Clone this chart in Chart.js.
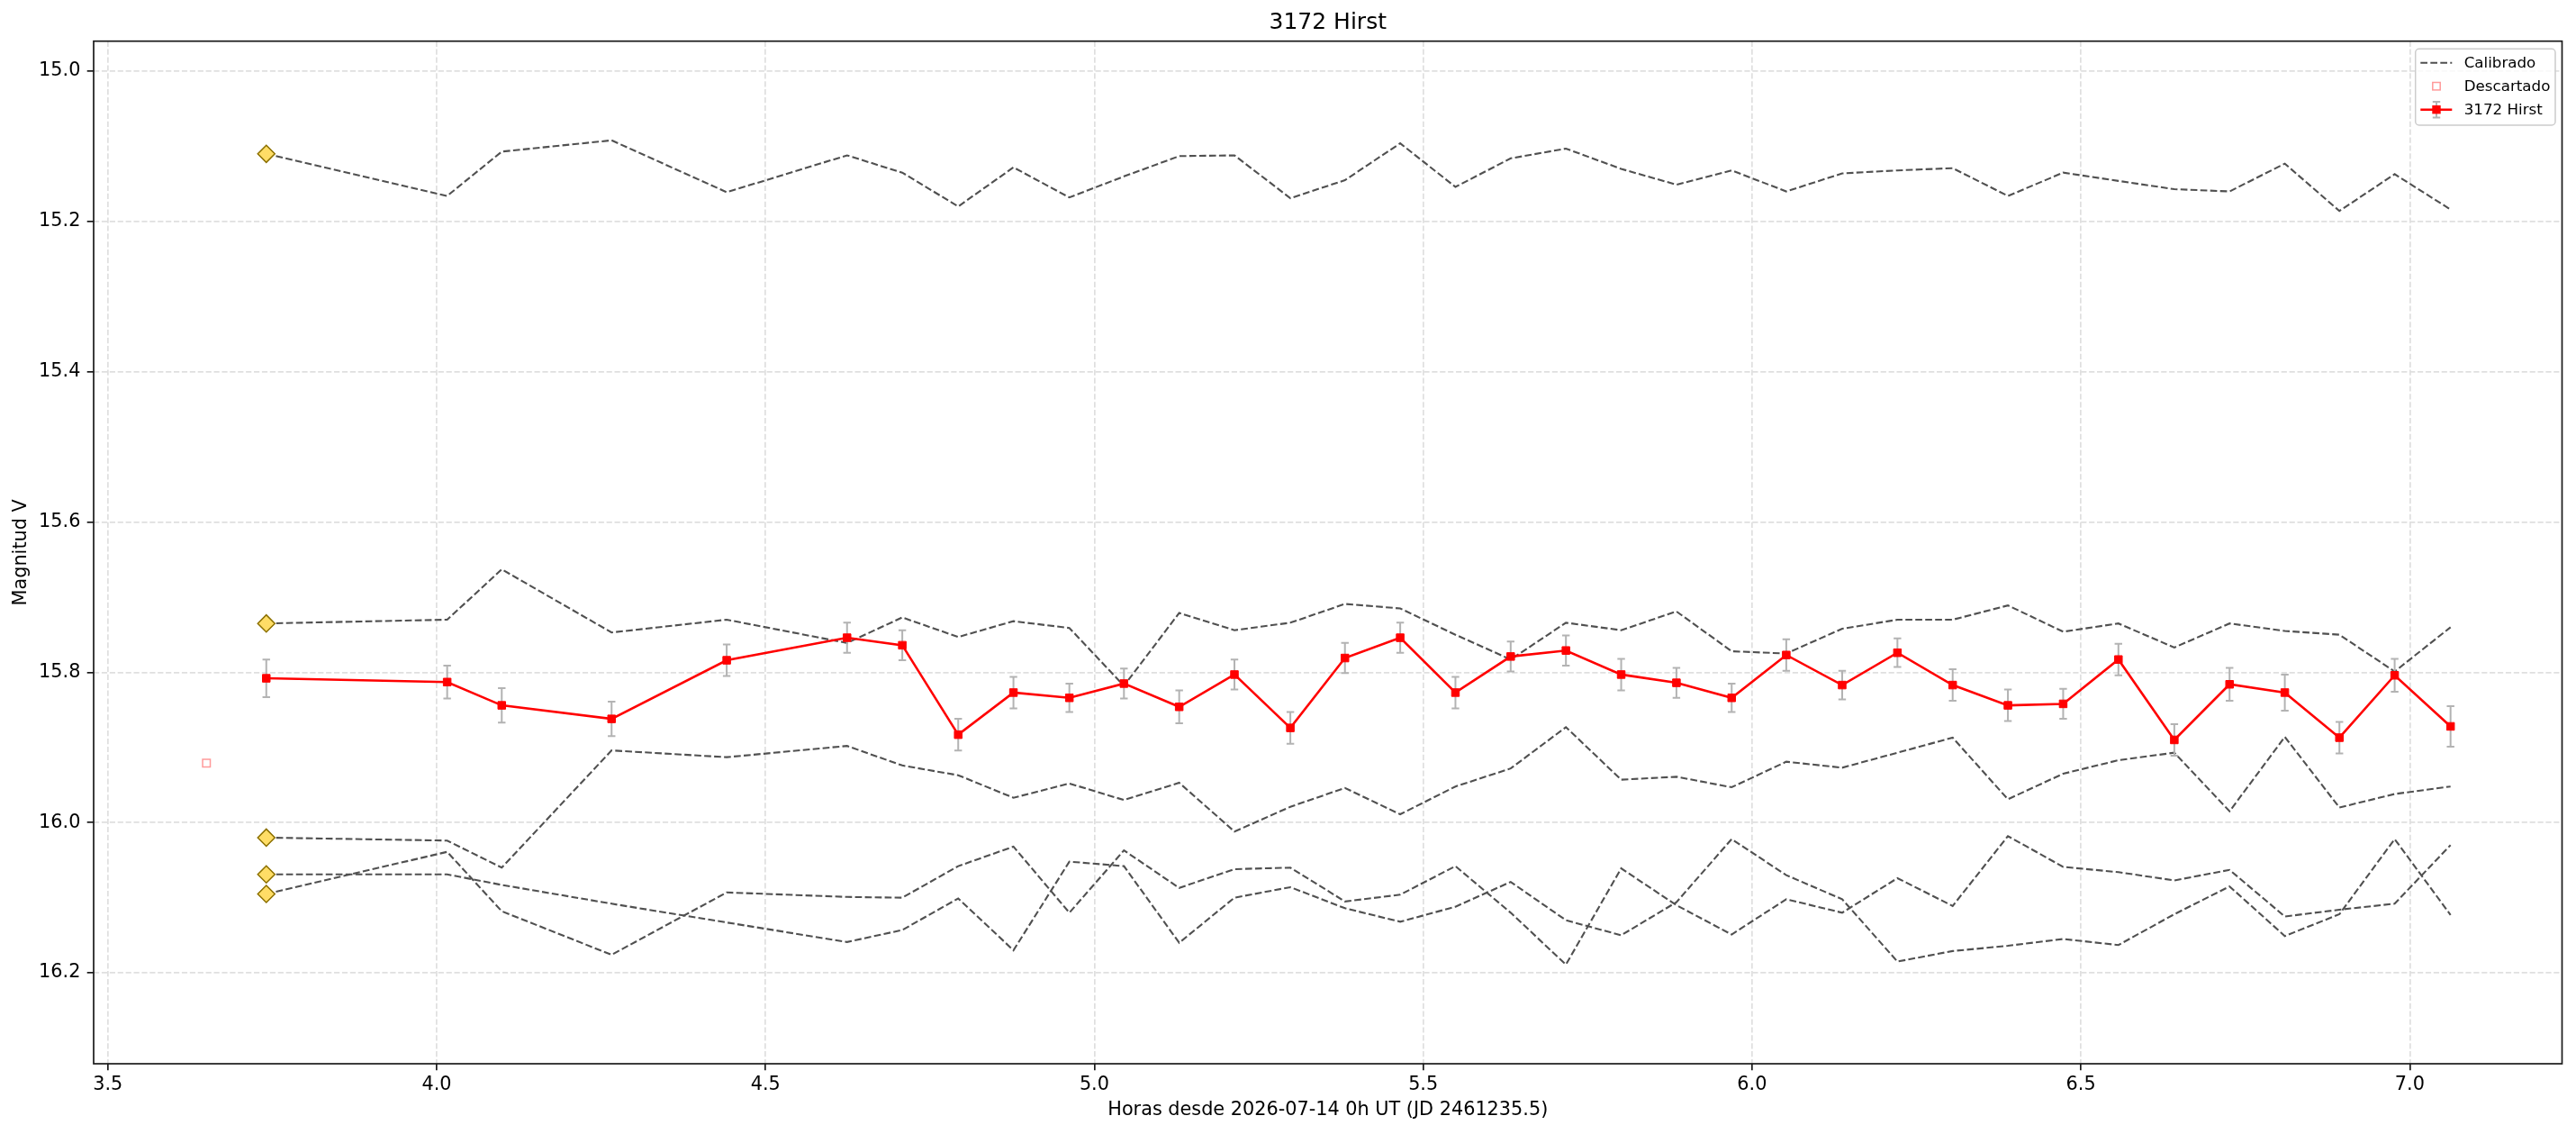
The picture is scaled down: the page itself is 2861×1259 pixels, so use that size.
<!DOCTYPE html>
<html>
<head>
<meta charset="utf-8">
<title>3172 Hirst</title>
<script src="https://cdn.jsdelivr.net/npm/chart.js@4.4.1/dist/chart.umd.min.js"></script>
<style>
  html, body { margin: 0; padding: 0; background: #fff; }
  canvas { display: block; }
</style>
</head>
<body>
<canvas id="lightCurve" width="2861" height="1259"></canvas>
<script>
// hours since 2026-07-14 0h UT, one entry per frame
const hours = [3.741, 4.016, 4.099, 4.266, 4.441, 4.624, 4.708, 4.793, 4.877, 4.962,
               5.045, 5.129, 5.213, 5.298, 5.381, 5.465, 5.549, 5.633, 5.717, 5.801,
               5.885, 5.969, 6.052, 6.137, 6.221, 6.305, 6.389, 6.473, 6.557, 6.642,
               6.726, 6.810, 6.893, 6.977, 7.062];

// target (3172 Hirst)
const targetMag = [15.808, 15.813, 15.844, 15.862, 15.784, 15.754, 15.764, 15.883, 15.827, 15.834,
                   15.815, 15.846, 15.803, 15.874, 15.781, 15.754, 15.827, 15.779, 15.771, 15.803,
                   15.814, 15.834, 15.777, 15.817, 15.774, 15.817, 15.844, 15.842, 15.783, 15.890,
                   15.816, 15.827, 15.887, 15.804, 15.872];
const targetErr = [0.025, 0.022, 0.023, 0.023, 0.021, 0.020, 0.020, 0.021, 0.021, 0.019,
                   0.020, 0.022, 0.020, 0.021, 0.020, 0.020, 0.021, 0.020, 0.020, 0.021,
                   0.020, 0.019, 0.021, 0.019, 0.019, 0.021, 0.021, 0.020, 0.021, 0.021,
                   0.022, 0.024, 0.021, 0.022, 0.027];

// rejected frame
const discardedHours = [3.650];
const discardedMag = [15.921];

// calibrated comparison stars
const comp1 = [15.110, 15.166, 15.107, 15.092, 15.161, 15.112, 15.135, 15.180, 15.128, 15.168,
               15.140, 15.113, 15.112, 15.169, 15.145, 15.096, 15.154, 15.116, 15.103, 15.130,
               15.151, 15.132, 15.160, 15.136, 15.132, 15.129, 15.166, 15.135, 15.146, 15.157,
               15.160, 15.123, 15.186, 15.137, 15.184];
const comp2 = [15.735, 15.730, 15.663, 15.747, 15.730, 15.761, 15.727, 15.753, 15.732, 15.741,
               15.818, 15.721, 15.744, 15.734, 15.709, 15.715, 15.750, 15.783, 15.734, 15.744,
               15.719, 15.772, 15.775, 15.742, 15.730, 15.730, 15.711, 15.746, 15.735, 15.767,
               15.735, 15.745, 15.750, 15.799, 15.740];
const comp3 = [16.020, 16.024, 16.060, 15.904, 15.913, 15.898, 15.924, 15.937, 15.967, 15.948,
               15.970, 15.947, 16.012, 15.979, 15.954, 15.989, 15.952, 15.928, 15.873, 15.943,
               15.939, 15.953, 15.919, 15.927, 15.907, 15.887, 15.969, 15.935, 15.917, 15.907,
               15.985, 15.886, 15.980, 15.962, 15.952];
const comp4 = [16.069, 16.069, 16.083, 16.108, 16.133, 16.159, 16.143, 16.101, 16.170, 16.052,
               16.058, 16.160, 16.100, 16.086, 16.114, 16.132, 16.112, 16.079, 16.130, 16.150,
               16.106, 16.022, 16.070, 16.102, 16.185, 16.171, 16.164, 16.155, 16.163, 16.122,
               16.085, 16.151, 16.122, 16.022, 16.123];
const comp5 = [16.095, 16.039, 16.118, 16.176, 16.093, 16.099, 16.100, 16.058, 16.032, 16.120,
               16.037, 16.087, 16.062, 16.060, 16.105, 16.096, 16.058, 16.120, 16.189, 16.061,
               16.110, 16.149, 16.102, 16.120, 16.074, 16.111, 16.018, 16.059, 16.066, 16.077,
               16.063, 16.125, 16.116, 16.108, 16.030];

const xTicks = [3.5, 4.0, 4.5, 5.0, 5.5, 6.0, 6.5, 7.0];
const yTicks = [15.0, 15.2, 15.4, 15.6, 15.8, 16.0, 16.2];

const FONT = 'DejaVu Sans';
Chart.defaults.font.family = FONT;
Chart.defaults.color = '#000';

const toPoints = (xs, ys) => xs.map((x, i) => ({ x: x, y: ys[i] }));

function compDataset(values) {
    return {
        label: 'Calibrado',
        data: toPoints(hours, values),
        showLine: true,
        borderColor: '#505050',
        borderWidth: 2.1,
        borderDash: [7.7, 3.3],
        tension: 0,
        fill: false,
        // yellow diamond on the first frame only
        pointStyle: 'rectRot',
        pointRadius: ctx => ctx.dataIndex === 0 ? 9.5 : 0,
        pointBackgroundColor: '#ffdd66',
        pointBorderColor: '#8c7000',
        pointBorderWidth: 1.5
    };
}

// grey error bars drawn just under the target series
const errorBars = {
    id: 'errorBars',
    beforeDatasetDraw(chart, args) {
        if (args.index !== 0) return;
        const { ctx, scales: { x, y } } = chart;
        ctx.save();
        ctx.strokeStyle = '#b3b3b3';
        ctx.lineWidth = 2;
        hours.forEach((h, i) => {
            const px = x.getPixelForValue(h);
            const top = y.getPixelForValue(targetMag[i] - targetErr[i]);
            const bot = y.getPixelForValue(targetMag[i] + targetErr[i]);
            ctx.beginPath();
            ctx.moveTo(px, top); ctx.lineTo(px, bot);
            ctx.moveTo(px - 4.2, top); ctx.lineTo(px + 4.2, top);
            ctx.moveTo(px - 4.2, bot); ctx.lineTo(px + 4.2, bot);
            ctx.stroke();
        });
        ctx.restore();
    }
};

// full box around the plot, like matplotlib spines
const frame = {
    id: 'frame',
    afterDraw(chart) {
        const { ctx, chartArea: a } = chart;
        ctx.save();
        ctx.strokeStyle = '#1a1a1a';
        ctx.lineWidth = 1.7;
        ctx.strokeRect(a.left, a.top, a.right - a.left, a.bottom - a.top);
        ctx.restore();
    }
};

// legend box in the upper right corner
const cornerLegend = {
    id: 'cornerLegend',
    afterDraw(chart) {
        const ctx = chart.ctx;
        const ds = chart.data.datasets;
        const bx = 2682.7, by = 54.3, bw = 155.3, bh = 84.7;
        ctx.save();
        ctx.beginPath();
        ctx.roundRect(bx, by, bw, bh, 4);
        ctx.fillStyle = 'rgba(255,255,255,0.8)';
        ctx.fill();
        ctx.strokeStyle = '#cccccc';
        ctx.lineWidth = 1.5;
        ctx.stroke();

        const x0 = 2688.3, x1 = 2723.3, xm = 2706;
        const rows = [70.2, 96.2, 122.2];

        // Calibrado
        ctx.strokeStyle = ds[2].borderColor;
        ctx.lineWidth = ds[2].borderWidth;
        ctx.setLineDash(ds[2].borderDash);
        ctx.beginPath(); ctx.moveTo(x0, rows[0] - 0.5); ctx.lineTo(x1, rows[0] - 0.5); ctx.stroke();
        ctx.setLineDash([]);

        // Descartado
        ctx.strokeStyle = ds[1].pointBorderColor;
        ctx.lineWidth = ds[1].pointBorderWidth;
        ctx.strokeRect(xm - 4.2, rows[1] - 0.5 - 4.2, 8.4, 8.4);

        // target
        const yr = rows[2] - 0.5;
        ctx.strokeStyle = '#b3b3b3';
        ctx.lineWidth = 2;
        ctx.beginPath();
        ctx.moveTo(xm, yr - 8.7); ctx.lineTo(xm, yr + 8.7);
        ctx.moveTo(xm - 4.2, yr - 8.7); ctx.lineTo(xm + 4.2, yr - 8.7);
        ctx.moveTo(xm - 4.2, yr + 8.7); ctx.lineTo(xm + 4.2, yr + 8.7);
        ctx.stroke();
        ctx.strokeStyle = ds[0].borderColor;
        ctx.lineWidth = ds[0].borderWidth;
        ctx.beginPath(); ctx.moveTo(x0, yr); ctx.lineTo(x1, yr); ctx.stroke();
        ctx.fillStyle = ds[0].pointBackgroundColor;
        ctx.fillRect(xm - 4.7, yr - 4.7, 9.4, 9.4);

        ctx.fillStyle = '#000';
        ctx.font = '16.7px "' + FONT + '"';
        ctx.textBaseline = 'middle';
        ctx.textAlign = 'left';
        ctx.fillText(ds[2].label, 2736.7, rows[0]);
        ctx.fillText(ds[1].label, 2736.7, rows[1]);
        ctx.fillText(ds[0].label, 2736.7, rows[2]);
        ctx.restore();
    }
};

const ctx = document.getElementById('lightCurve').getContext('2d');
const lightCurve = new Chart(ctx, {
    type: 'line',
    data: {
        datasets: [
            {
                label: '3172 Hirst',
                data: toPoints(hours, targetMag),
                showLine: true,
                borderColor: '#ff0000',
                borderWidth: 2.6,
                tension: 0,
                fill: false,
                pointStyle: 'rect',
                pointRadius: 6,
                pointBackgroundColor: '#ff0000',
                pointBorderColor: '#ff0000',
                pointBorderWidth: 1
            },
            {
                label: 'Descartado',
                data: toPoints(discardedHours, discardedMag),
                showLine: false,
                pointStyle: 'rect',
                pointRadius: 6,
                pointBackgroundColor: 'rgba(0,0,0,0)',
                pointBorderColor: '#ff9a9a',
                pointBorderWidth: 1.5
            },
            compDataset(comp1),
            compDataset(comp2),
            compDataset(comp3),
            compDataset(comp4),
            compDataset(comp5)
        ]
    },
    options: {
        responsive: false,
        animation: false,
        devicePixelRatio: 1,
        layout: { padding: { left: 0, top: 0, right: 15.5, bottom: 0 } },
        plugins: {
            legend: { display: false },
            tooltip: { enabled: false },
            title: {
                display: true,
                text: '3172 Hirst',
                fullSize: false,
                color: '#000',
                font: { size: 25, weight: 'normal' },
                padding: { top: 10.5, bottom: 5.2 }
            }
        },
        scales: {
            x: {
                type: 'linear',
                position: 'bottom',
                min: 3.4785,
                max: 7.2315,
                bounds: 'data',
                afterBuildTicks: s => { s.ticks = xTicks.map(v => ({ value: v })); },
                afterFit: s => { s.height = 78; },
                ticks: {
                    autoSkip: false,
                    maxRotation: 0,
                    padding: 4.2,
                    font: { size: 20.8 },
                    callback: v => v.toFixed(1)
                },
                grid: {
                    color: '#dfdfdf',
                    lineWidth: 1.7,
                    tickLength: 7.3,
                    tickWidth: 1.7,
                    tickColor: '#1a1a1a',
                    tickBorderDash: []
                },
                border: { display: false, dash: [6.2, 2.7] },
                title: {
                    display: true,
                    text: 'Horas desde 2026-07-14 0h UT (JD 2461235.5)',
                    font: { size: 20.8 },
                    padding: { top: 13.5, bottom: 13.5 }
                }
            },
            y: {
                type: 'linear',
                position: 'left',
                reverse: true,
                min: 14.96,
                max: 16.321,
                bounds: 'data',
                afterBuildTicks: s => { s.ticks = yTicks.map(v => ({ value: v })); },
                afterFit: s => { s.width = 104; },
                ticks: {
                    autoSkip: false,
                    padding: 7.3,
                    font: { size: 20.8 },
                    callback: v => v.toFixed(1)
                },
                grid: {
                    color: '#dfdfdf',
                    lineWidth: 1.7,
                    tickLength: 7.3,
                    tickWidth: 1.7,
                    tickColor: '#1a1a1a',
                    tickBorderDash: []
                },
                border: { display: false, dash: [6.2, 2.7] },
                title: {
                    display: true,
                    text: 'Magnitud V',
                    font: { size: 20.8 },
                    padding: { top: 11.2, bottom: 0 }
                }
            }
        }
    },
    plugins: [errorBars, frame, cornerLegend]
});
</script>
</body>
</html>
